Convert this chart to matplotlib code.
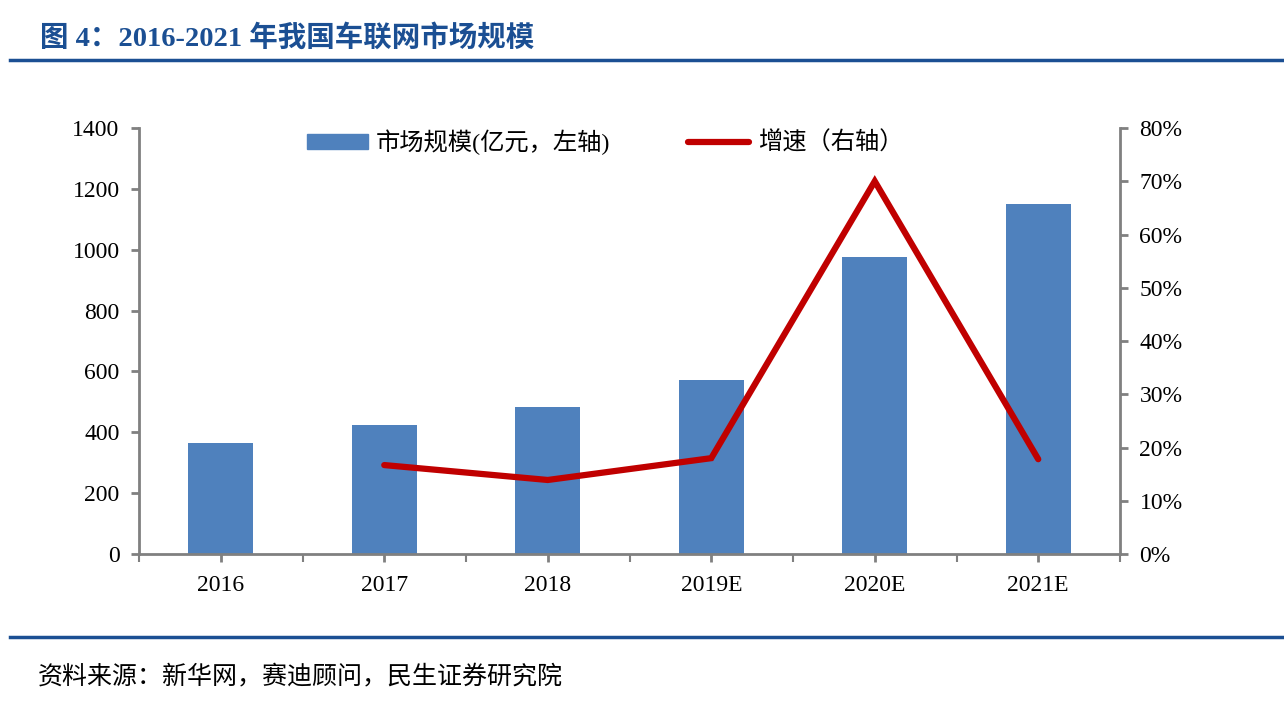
import numpy as np
import matplotlib.pyplot as plt
from matplotlib.lines import Line2D
from matplotlib.patches import Patch

years = ['2016', '2017', '2018', '2019E', '2020E', '2021E']
market_size = [365, 424, 483, 572, 976, 1150]
growth = [np.nan, 16.7, 13.9, 18.0, 70.0, 17.8]

blue = '#4F81BD'
red = '#C00000'
navy = '#1B4F93'
grey = '#808080'
cjk = ['Liberation Serif', 'Noto Sans CJK SC']
num = 'Liberation Serif'

fig = plt.figure(figsize=(12.84, 7.02), dpi=100)
ax = fig.add_axes([139/1284, 1-554/702, (1120-139)/1284, (554-128)/702])
ax2 = ax.twinx()

x = np.arange(len(years))
ax.bar(x, market_size, width=0.4, color=blue, zorder=2)
ax2.plot(x, growth, color=red, lw=4.5, solid_capstyle='round', solid_joinstyle='miter', zorder=3)

ax.set_xlim(-0.5, len(years) - 0.5)
ax.set_ylim(0, 1400)
ax.set_yticks(np.arange(0, 1401, 200))
ax2.set_ylim(0, 80)
ax2.set_yticks(np.arange(0, 81, 10))
ax2.set_yticklabels([f'{v}%' for v in range(0, 81, 10)])

ax.set_xticks(x)
ax.set_xticklabels(years)
ax.set_xticks(np.arange(-0.5, len(years), 1), minor=True)
ax.tick_params(axis='x', which='major', length=0, pad=9)
ax.tick_params(axis='x', which='minor', length=6, color=grey, width=1.5)

for a in (ax, ax2):
    for s in a.spines.values():
        s.set_visible(False)
    a.tick_params(labelsize=17, width=2, color=grey, length=6)
    for lab in a.get_xticklabels() + a.get_yticklabels():
        lab.set_fontfamily(num)
ax.spines['left'].set_visible(True)
ax.spines['bottom'].set_visible(True)
ax2.spines['right'].set_visible(True)
for s in (ax.spines['left'], ax.spines['bottom'], ax2.spines['right']):
    s.set_color(grey)
    s.set_linewidth(2)
ax.tick_params(axis='y', pad=8)
ax2.tick_params(axis='y', pad=8)

handles = [Patch(color=blue), Line2D([0], [0], color=red, lw=4.5, solid_capstyle='round')]
labels = ['市场规模(亿元，左轴)', '增速（右轴）']
leg = ax.legend(handles, labels, loc='center', bbox_to_anchor=(0.475, 0.967), ncol=2,
                frameon=False, prop={'family': cjk, 'size': 17.5}, handlelength=2.5,
                handleheight=0.55, columnspacing=3.2, handletextpad=0.35)

fig.text(40/1284, 1-38/702, '图 4：2016-2021 年我国车联网市场规模', fontsize=20.5,
         fontweight='bold', color=navy, family=cjk, va='center', ha='left')
fig.add_artist(Line2D([10/1284, 1], [1-60/702, 1-60/702], color=navy, lw=2.5))
fig.add_artist(Line2D([10/1284, 1], [1-637/702, 1-637/702], color=navy, lw=2.5))
fig.text(38/1284, 1-676/702, '资料来源：新华网，赛迪顾问，民生证券研究院', fontsize=18,
         color='black', family=cjk, va='center', ha='left')

fig.savefig('out.png', dpi=100)
